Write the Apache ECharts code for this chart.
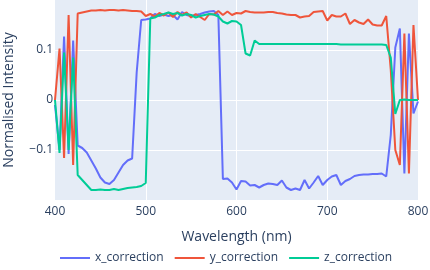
<!DOCTYPE html>
<html>
<head>
<meta charset="utf-8">
<script src="https://cdn.jsdelivr.net/npm/echarts@6/dist/echarts.min.js"></script>
<style>html,body{margin:0;padding:0;background:#fff;}#c{width:430px;height:270px;}</style>
</head>
<body>
<div id="c"></div>
<script>
const wavelengths = [400,405,410,415,420,425,430,435,440,445,450,455,460,465,470,475,480,485,490,495,
500,505,510,515,520,525,530,535,540,545,550,555,560,565,570,575,580,585,590,595,
600,605,610,615,620,625,630,635,640,645,650,655,660,665,670,675,680,685,690,695,
700,705,710,715,720,725,730,735,740,745,750,755,760,765,770,775,780,785,790,795,800];

const xCorrection = [-0.01,-0.1,0.127,-0.108,0.119,-0.091,-0.096,-0.105,-0.121,-0.137,
-0.155,-0.165,-0.168,-0.16,-0.145,-0.13,-0.121,-0.117,0.055,0.16,
0.161,0.163,0.172,0.168,0.171,0.168,0.17,0.161,0.176,0.17,
0.168,0.17,0.172,0.175,0.177,0.178,0.17,-0.158,-0.157,-0.165,
-0.179,-0.162,-0.163,-0.171,-0.17,-0.175,-0.17,-0.167,-0.168,-0.17,
-0.161,-0.175,-0.18,-0.177,-0.18,-0.16,-0.177,-0.165,-0.152,-0.17,
-0.16,-0.153,-0.15,-0.17,-0.162,-0.158,-0.152,-0.15,-0.149,-0.149,
-0.148,-0.148,-0.147,-0.153,-0.07,0.105,0.143,-0.147,0.133,-0.027,-0.003];

const yCorrection = [0.0,0.103,-0.116,0.17,-0.13,0.173,0.175,0.177,0.179,0.179,
0.18,0.179,0.18,0.18,0.179,0.18,0.179,0.178,0.178,0.177,
0.168,0.172,0.167,0.174,0.169,0.175,0.166,0.176,0.17,0.175,
0.165,0.172,0.166,0.16,0.172,0.171,0.178,0.17,0.177,0.17,
0.174,0.173,0.178,0.176,0.175,0.175,0.175,0.176,0.176,0.174,
0.173,0.171,0.17,0.17,0.165,0.167,0.168,0.176,0.177,0.178,
0.159,0.17,0.167,0.167,0.173,0.152,0.16,0.155,0.152,0.161,
0.151,0.149,0.149,0.168,0.06,-0.1,-0.13,0.133,-0.147,0.15,0.0];

const zCorrection = [0.0,-0.106,0.095,-0.1,0.085,-0.15,-0.16,-0.17,-0.18,-0.18,
-0.179,-0.18,-0.18,-0.178,-0.18,-0.178,-0.176,-0.175,-0.174,-0.172,
-0.166,0.163,0.165,0.17,0.172,0.175,0.172,0.174,0.169,0.172,
0.17,0.165,0.168,0.17,0.172,0.171,0.167,0.157,0.153,0.158,
0.157,0.15,0.093,0.089,0.119,0.112,0.112,0.112,0.112,0.112,
0.112,0.112,0.112,0.112,0.112,0.112,0.112,0.112,0.112,0.112,
0.112,0.112,0.112,0.111,0.111,0.111,0.111,0.111,0.111,0.111,
0.111,0.111,0.111,0.11,0.085,-0.028,0.0,0.001,0.0,0.0,0.0];

const seriesNames = ['x_correction','y_correction','z_correction'];
const seriesColors = ['#636efa','#EF553B','#00cc96'];
const seriesValues = [xCorrection, yCorrection, zCorrection];

const FONT = '"Open Sans", sans-serif';
const TXT = '#2a3f5f';

const chart = echarts.init(document.getElementById('c'), null, {renderer:'canvas'});
chart.setOption({
  animation: false,
  backgroundColor: '#fff',
  textStyle: {fontFamily: FONT},
  grid: {left:55, right:12, top:0, bottom:70, show:true, backgroundColor:'#E5ECF6', borderWidth:0,
         containLabel:false, outerBoundsMode:'none'},
  legend: {
    data: seriesNames.map(n => ({name: n, icon: 'rect'})), left: 60, top: 252, padding: 0,
    itemWidth: 30, itemHeight: 2, itemGap: 11,
    textStyle: {color: TXT, fontSize: 12, fontFamily: FONT}
  },
  xAxis: {
    type: 'value', min: 400, max: 800, interval: 100,
    name: 'Wavelength (nm)', nameLocation: 'middle', nameGap: 30,
    nameTextStyle: {color: TXT, fontSize: 14, fontFamily: FONT},
    axisLine: {show:false}, axisTick: {show:false},
    axisLabel: {color: TXT, fontSize: 12, margin: 6, fontFamily: FONT},
    splitLine: {show:true, showMinLine:false, showMaxLine:false, lineStyle:{color:'#fff', width:1}}
  },
  yAxis: {
    type: 'value', min: -0.2, max: 0.2, interval: 0.1,
    name: 'Normalised Intensity', nameLocation: 'middle', nameGap: 39,
    nameTextStyle: {color: TXT, fontSize: 14, fontFamily: FONT},
    axisLine: {show:false}, axisTick: {show:false},
    axisLabel: {color: TXT, fontSize: 12, margin: 2, fontFamily: FONT, showMinLabel:false, showMaxLabel:false,
      formatter: v => { const r = Math.round(v*10)/10; return r === 0 ? '0' : (r < 0 ? '\u2212' + Math.abs(r) : String(r)); }},
    splitLine: {show:true, showMinLine:false, showMaxLine:false, lineStyle:{color:'#fff', width:1}}
  },
  series: seriesNames.map((n, i) => ({
    name: n, type: 'line', symbol: 'none', showSymbol: false,
    data: wavelengths.map((w, j) => [w, seriesValues[i][j]]),
    lineStyle: {color: seriesColors[i], width: 2},
    itemStyle: {color: seriesColors[i]},
    z: 2
  }))
});
</script>
</body>
</html>
